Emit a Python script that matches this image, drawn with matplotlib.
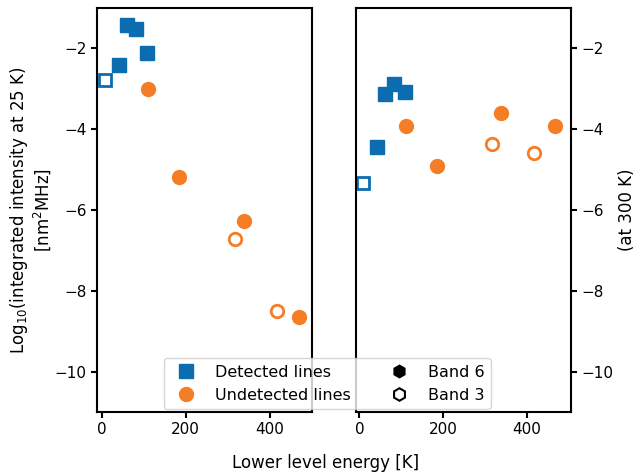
import numpy as np
import matplotlib.pyplot as plt
from matplotlib.lines import Line2D

# lower level energies [K]
det_e = [41, 61, 82, 108]
det_e_b3 = [8]
und_e = [111, 185, 339, 468]
und_e_b3 = [316, 417]

# log10 integrated intensity at 25 K
det_25 = [-2.41, -1.42, -1.51, -2.11]
det_25_b3 = [-2.78]
und_25 = [-3.0, -5.18, -6.28, -8.65]
und_25_b3 = [-6.71, -8.5]

# log10 integrated intensity at 300 K
det_300 = [-4.44, -3.14, -2.89, -3.08]
det_300_b3 = [-5.34]
und_300 = [-3.93, -4.92, -3.59, -3.93]
und_300_b3 = [-4.37, -4.58]

blue = "#0b6db0"
orange = "#f57d26"

plt.rcParams['axes.linewidth'] = 1.5
plt.rcParams['font.size'] = 12

fig = plt.figure(figsize=(6.36, 4.74), dpi=100)
ax1 = fig.add_axes([97 / 636, 62 / 474, 215 / 636, 404 / 474])
ax2 = fig.add_axes([356 / 636, 62 / 474, 215 / 636, 404 / 474])


def draw(ax, d, d3, u, u3):
    ax.plot(det_e, d, 's', ms=10, color=blue)
    ax.plot(det_e_b3, d3, 's', ms=9, mfc='white', mec=blue, mew=2)
    ax.plot(und_e, u, 'o', ms=10, color=orange)
    ax.plot(und_e_b3, u3, 'o', ms=9, mfc='white', mec=orange, mew=2)
    ax.set_ylim(-11, -1)
    ax.set_yticks([-10, -8, -6, -4, -2])
    ax.set_xticks([0, 200, 400])
    ax.tick_params(width=1.5, length=4, labelsize=11)


draw(ax1, det_25, det_25_b3, und_25, und_25_b3)
draw(ax2, det_300, det_300_b3, und_300, und_300_b3)
ax1.set_xlim(-11, 500)
ax2.set_xlim(-8, 505)
ax2.yaxis.tick_right()
ax2.yaxis.set_label_position("right")
ax1.set_ylabel("Log$_{10}$(integrated intensity at 25 K)\n[nm$^2$MHz]", linespacing=1.05)
ax1.yaxis.set_label_coords(-0.205, 0.5)
ax2.set_ylabel("(at 300 K)", labelpad=3)
fig.text(326 / 636, 6 / 474, "Lower level energy [K]", ha='center', va='baseline')

handles = [
    Line2D([], [], ls='', marker='s', ms=10, color=blue),
    Line2D([], [], ls='', marker='o', ms=10, color=orange),
    Line2D([], [], ls='', marker='h', ms=9, color='black'),
    Line2D([], [], ls='', marker='h', ms=9, mfc='white', mec='black', mew=1.5),
]
labels = ["Detected lines", "Undetected lines", "Band 6", "Band 3"]
fig.legend(handles, labels, ncol=2, loc='lower left', fontsize=11.5,
           bbox_to_anchor=(164 / 636, 1 - 409 / 474), columnspacing=2.0,
           borderaxespad=0)

fig.savefig("out.png")
